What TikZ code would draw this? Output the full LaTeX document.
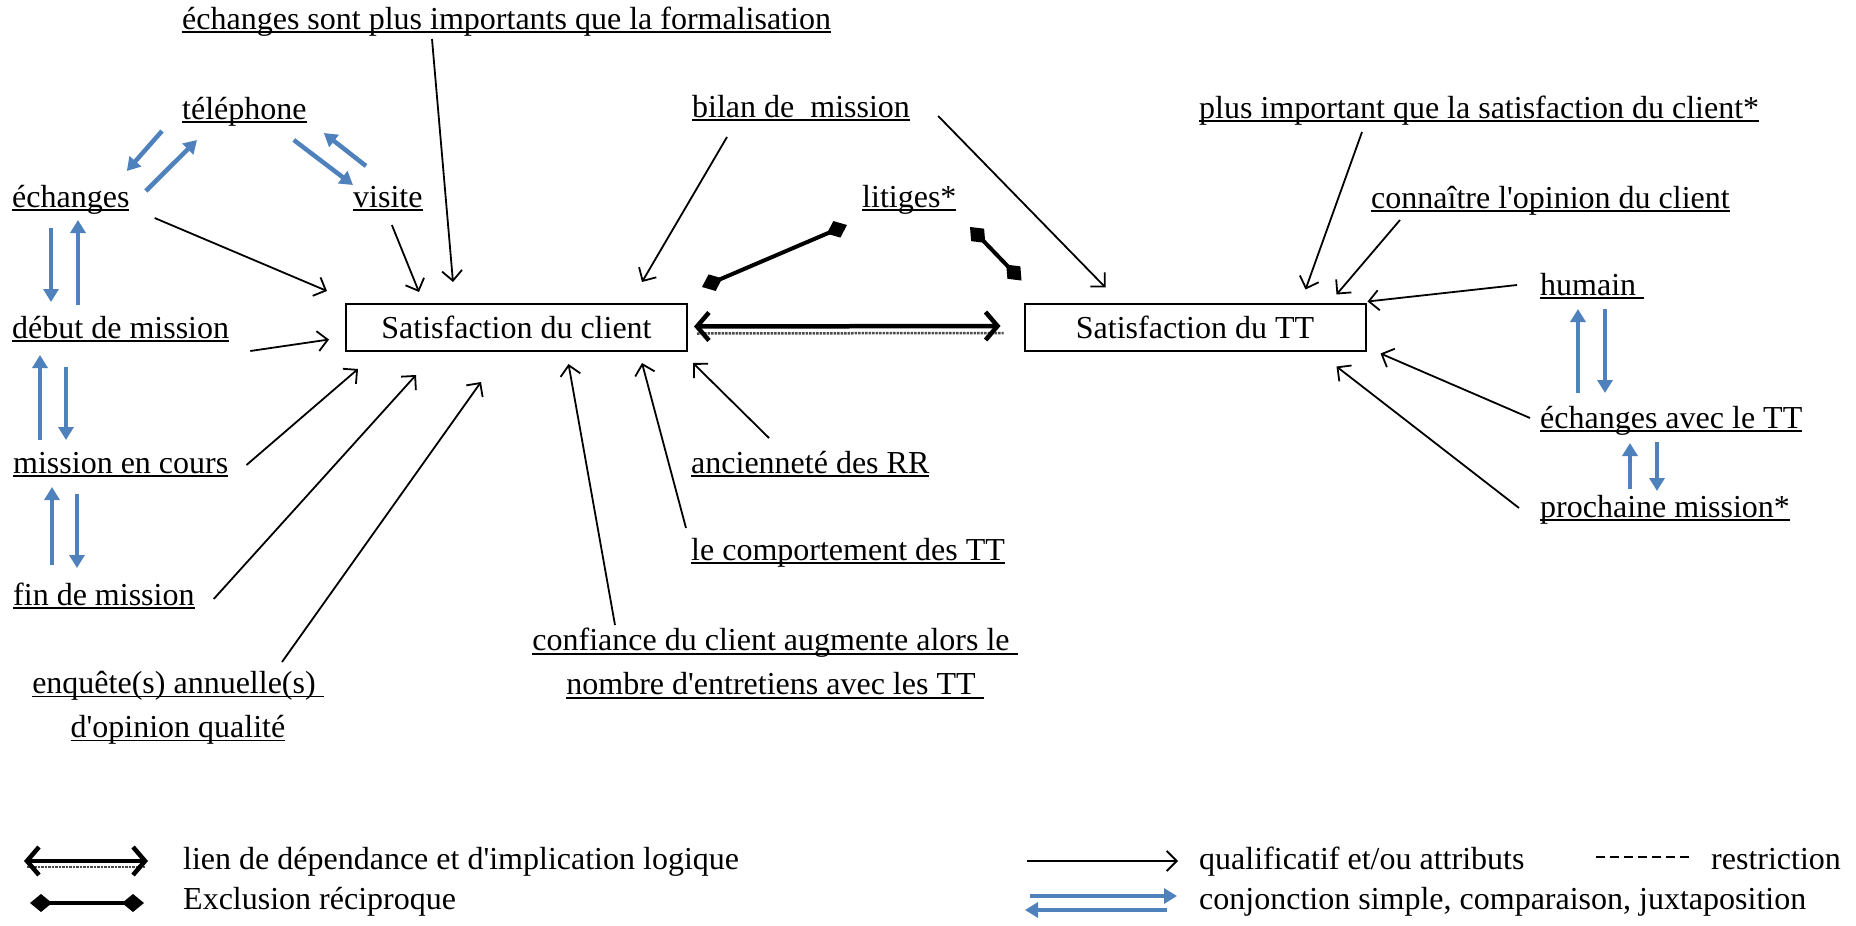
\documentclass[tikz,border=0pt]{standalone}
\usepackage{fontspec}
\setmainfont{Liberation Serif}
\usetikzlibrary{arrows.meta}
\definecolor{bleu}{HTML}{4F81BD}
\newcommand{\souligne}[1]{\setbox0=\hbox{#1}\rlap{\rule[-4pt]{\wd0}{1.6pt}}\box0}

\begin{document}
\begin{tikzpicture}[x=1pt, y=-1pt,
	font=\fontsize{32}{44}\selectfont,
	lab/.style={anchor=base west, inner sep=0pt},
	boite/.style={draw, line width=2pt, minimum width=341pt, minimum height=47pt, inner sep=0pt},
	qual/.style={line width=1.8pt, -{Straight Barb[length=10pt,width=20pt]}},
	conj/.style={bleu, line width=4.5pt, -{Triangle[length=13pt,width=15pt]}},
	dep/.style={line width=4.5pt, {Straight Barb[length=12pt,width=28pt]}-{Straight Barb[length=12pt,width=28pt]}},
	ombre/.style={densely dotted, line width=2.5pt, black!70},
	excl/.style={line width=4pt, {Diamond[length=22pt,width=18pt]}-{Diamond[length=22pt,width=18pt]}}]
	\useasboundingbox (0,0) rectangle (1856,926);
	% Labels and boxes:
	\node[lab] (formalisation) at (182,29) {\souligne{échanges sont plus importants que la formalisation}};
	\node[lab] (telephone) at (182,119) {\souligne{téléphone}};
	\node[lab] (echanges) at (12,207) {\souligne{échanges}};
	\node[lab] (visite) at (353,207) {\souligne{visite}};
	\node[lab] (debut) at (12,338) {\souligne{début de mission}};
	\node[lab] (encours) at (13,473) {\souligne{mission en cours}};
	\node[lab] (fin) at (13,605) {\souligne{fin de mission}};
	\node[inner sep=0pt, anchor=north, align=center] (enquete) at (178,671) {\souligne{enquête(s) annuelle(s)\ }\\ \souligne{d\textquotesingle opinion qualité}};
	\node[lab] (bilan) at (692,117) {\souligne{bilan de\ \ mission}};
	\node[lab] (litiges) at (862,207) {\souligne{litiges*}};
	\node[lab] (anciennete) at (691,473) {\souligne{ancienneté des RR}};
	\node[lab] (comportement) at (691,560) {\souligne{le comportement des TT}};
	\node[inner sep=0pt, anchor=north, align=center] (confiance) at (775,628) {\souligne{confiance du client augmente alors le\ }\\ \souligne{nombre d\textquotesingle entretiens avec les TT\ }};
	\node[lab] (importance) at (1199,118) {\souligne{plus important que la satisfaction du client*}};
	\node[lab] (opinion) at (1371,208) {\souligne{connaître l\textquotesingle opinion du client}};
	\node[lab] (humain) at (1540,295) {\souligne{humain\ }};
	\node[lab] (echangesTT) at (1540,428) {\souligne{échanges avec le TT}};
	\node[lab] (prochaine) at (1540,517) {\souligne{prochaine mission*}};
	\node[boite] (client) at (516.5,327.5) {Satisfaction du client};
	\node[boite] (tt) at (1195,327) {Satisfaction du TT};
	% Qualificatifs:
	\draw[qual] ([shift={(25,11)}]echanges.base east) -- ([shift={(-18,-12)}]client.north west);
	\draw[qual] ([shift={(4,18)}]visite.base) -- ([shift={(74,-11)}]client.north west);
	\draw[qual] ([shift={(250,10)}]formalisation.base west) -- ([shift={(108,-21)}]client.north west);
	\draw[qual] ([shift={(21,13)}]debut.base east) -- ([shift={(-16,12)}]client.west);
	\draw[qual] ([shift={(35,20)}]bilan.base west) -- ([shift={(-46,-21)}]client.north east);
	\draw[qual] ([shift={(18,-8)}]encours.base east) -- ([shift={(13,17)}]client.south west);
	\draw[qual] ([shift={(19,-6)}]fin.base east) -- ([shift={(71,23)}]client.south west);
	\draw[qual] ([shift={(104,-9)}]enquete.north) -- ([shift={(136,30)}]client.south west);
	\draw[qual] ([shift={(-160,-3)}]confiance.north) -- ([shift={(52,12)}]client.south);
	\draw[qual] ([shift={(-5,-32)}]comportement.base west) -- ([shift={(-46,11)}]client.south east);
	\draw[qual] ([shift={(78,-35)}]anciennete.base west) -- ([shift={(5,11)}]client.south east);
	\draw[qual] ([shift={(28,-1)}]bilan.base east) -- ([shift={(82,-15)}]tt.north west);
	\draw[qual] ([shift={(163,14)}]importance.base west) -- ([shift={(-61,-13)}]tt.north east);
	\draw[qual] ([shift={(29,12)}]opinion.base west) -- ([shift={(-30,-8)}]tt.north east);
	\draw[qual] ([shift={(-23,-10)}]humain.base west) -- ([shift={(1,-1)}]tt.north east);
	\draw[qual] ([shift={(-10,-10)}]echangesTT.base west) -- ([shift={(14,2)}]tt.south east);
	\draw[qual] ([shift={(-21,-9)}]prochaine.base west) -- ([shift={(-30,15)}]tt.south east);
	% Conjonctions:
	\draw[conj] ([shift={(-20,12)}]telephone.base west) -- ([shift={(56,-36)}]echanges.base);
	\draw[conj] ([shift={(75,-16)}]echanges.base) -- ([shift={(15,21)}]telephone.base west);
	\draw[conj] ([shift={(-13,21)}]telephone.base east) -- ([shift={(0,-22)}]visite.base west);
	\draw[conj] ([shift={(13,-41)}]visite.base west) -- ([shift={(17,14)}]telephone.base east);
	\draw[conj] ([shift={(39,21)}]echanges.base west) -- ([shift={(39,-36)}]debut.base west);
	\draw[conj] ([shift={(66,-33)}]debut.base west) -- ([shift={(66,13)}]echanges.base west);
	\draw[conj] ([shift={(54,29)}]debut.base west) -- ([shift={(53,-33)}]encours.base west);
	\draw[conj] ([shift={(27,-33)}]encours.base west) -- ([shift={(28,17)}]debut.base west);
	\draw[conj] ([shift={(64,21)}]encours.base west) -- ([shift={(64,-37)}]fin.base west);
	\draw[conj] ([shift={(39,-40)}]fin.base west) -- ([shift={(39,14)}]encours.base west);
	\draw[conj] ([shift={(38,-35)}]echangesTT.base west) -- ([shift={(38,14)}]humain.base west);
	\draw[conj] ([shift={(65,14)}]humain.base west) -- ([shift={(65,-35)}]echangesTT.base west);
	\draw[conj] ([shift={(90,-28)}]prochaine.base west) -- ([shift={(90,15)}]echangesTT.base west);
	\draw[conj] ([shift={(117,14)}]echangesTT.base west) -- ([shift={(117,-26)}]prochaine.base west);
	% Exclusion et dependance:
	\draw[excl] ([shift={(-15,18)}]litiges.base west) -- ([shift={(14,-16)}]client.north east);
	\draw[excl] ([shift={(108,20)}]litiges.base west) -- ([shift={(-2,-22)}]tt.north west);
	\draw[ombre] ([shift={(9,6)}]client.east) -- ([shift={(-20,6)}]tt.west);
	\draw[dep] ([shift={(6,-1)}]client.east) -- ([shift={(-23,-1)}]tt.west);
	% Legend:
	\coordinate (lienA) at (24,861);
	\coordinate (lienB) at (148,861);
	\draw[ombre] ([shift={(3,6)}]lienA) -- ([shift={(-3,6)}]lienB);
	\draw[dep] (lienA) -- (lienB);
	\node[lab] (lienT) at (183,869) {lien de dépendance et d\textquotesingle implication logique};
	\coordinate (exclA) at (30,903);
	\coordinate (exclB) at (144,903);
	\draw[excl] (exclA) -- (exclB);
	\node[lab] (exclT) at (183,909) {Exclusion réciproque};
	\coordinate (qualA) at (1027,861);
	\coordinate (qualB) at (1178,861);
	\draw[qual] (qualA) -- (qualB);
	\node[lab] (qualT) at (1199,869) {qualificatif et/ou attributs};
	\coordinate (restA) at (1596,857);
	\coordinate (restB) at (1692,857);
	\draw[line width=1.6pt, dash pattern=on 9pt off 5pt] (restA) -- (restB);
	\node[lab] (restT) at (1711,869) {restriction};
	\coordinate (conjA) at (1030,896);
	\coordinate (conjB) at (1177,896);
	\coordinate (conjC) at (1167,910);
	\coordinate (conjD) at (1025,910);
	\draw[conj] (conjA) -- (conjB);
	\draw[conj] (conjC) -- (conjD);
	\node[lab] (conjT) at (1199,909) {conjonction simple, comparaison, juxtaposition};
\end{tikzpicture}
\end{document}
